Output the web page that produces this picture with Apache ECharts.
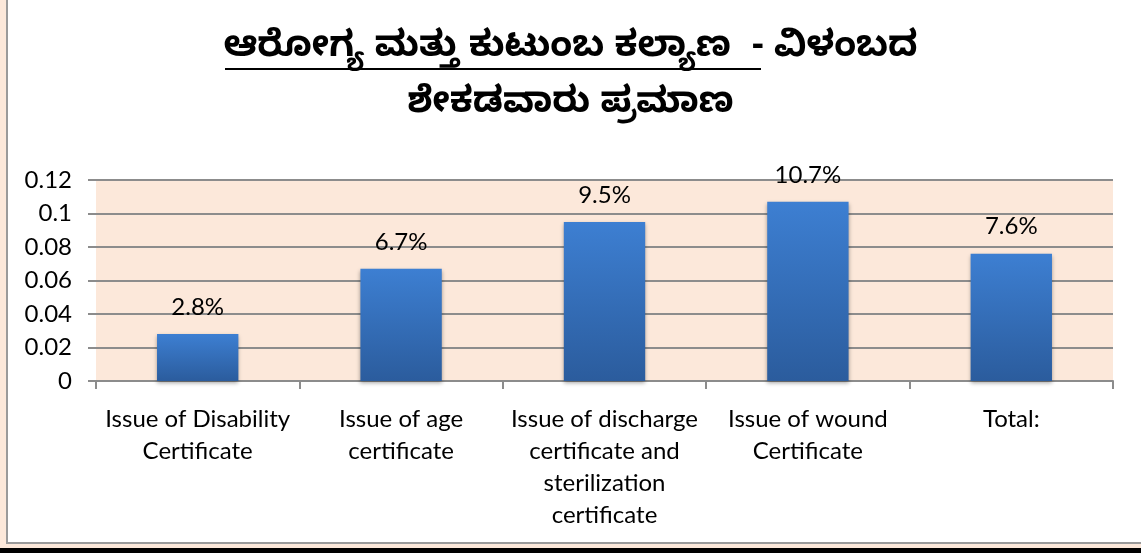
<!DOCTYPE html>
<html>
<head>
<meta charset="utf-8">
<script src="https://cdn.jsdelivr.net/npm/echarts@6/dist/echarts.min.js"></script>
<style>
  html, body { margin: 0; padding: 0; background: #fce8da; }
  #frame { position: absolute; left: 6px; top: -2px; width: 1140px; height: 546px; border: 2px solid #9a9a9a; background: #fff; box-sizing: border-box; }
  #band { position: absolute; left: 0; top: 548px; width: 1141px; height: 5px; background: #000; }
  #chart { position: absolute; left: 0; top: 0; width: 1141px; height: 553px; }
</style>
</head>
<body>
<div id="frame"></div>
<div id="band"></div>
<div id="chart"></div>
<script>
  // data
  var categories = [
    'Issue of Disability\nCertificate',
    'Issue of age\ncertificate',
    'Issue of discharge\ncertificate and\nsterilization\ncertificate',
    'Issue of wound\nCertificate',
    'Total:'
  ]
  var values = [0.028, 0.067, 0.095, 0.107, 0.076]
  var valueLabels = ['2.8%', '6.7%', '9.5%', '10.7%', '7.6%']
  var titleLine1 = 'ಆರೋಗ್ಯ ಮತ್ತು ಕುಟುಂಬ ಕಲ್ಯಾಣ  - ವಿಳಂಬದ'
  var titleLine2 = 'ಶೇಕಡವಾರು ಪ್ರಮಾಣ'

  var labelFont = "Lato, 'Open Sans', sans-serif"
  var titleFont = "'Noto Sans Kannada', 'Noto Sans', sans-serif"

  var chart = echarts.init(document.getElementById('chart'))
  chart.setOption({
    animation: false,
    title: {
      text: titleLine1 + '\n' + titleLine2,
      left: 'center',
      top: 19,
      textStyle: {
        fontFamily: titleFont,
        fontSize: 36,
        fontWeight: 'bold',
        color: '#000',
        lineHeight: 56
      }
    },
    graphic: [
      {
        // underline under the first part of the title
        type: 'line',
        shape: { x1: 225, y1: 69, x2: 761, y2: 69 },
        style: { stroke: '#000', lineWidth: 2 }
      }
    ],
    grid: {
      left: 96,
      right: 28,
      top: 180,
      bottom: 172,
      show: true,
      backgroundColor: '#fce8da',
      borderWidth: 0
    },
    xAxis: {
      type: 'category',
      data: categories,
      axisLine: { lineStyle: { color: '#8c8c8c', width: 2 } },
      axisTick: { show: true, length: 8, lineStyle: { color: '#8c8c8c', width: 2 } },
      axisLabel: {
        interval: 0,
        margin: 22,
        fontFamily: labelFont,
        fontSize: 24,
        lineHeight: 32,
        color: '#000'
      }
    },
    yAxis: {
      type: 'value',
      min: 0,
      max: 0.12,
      interval: 0.02,
      axisLine: { show: false },
      axisTick: { show: true, length: 8, lineStyle: { color: '#8c8c8c', width: 2 } },
      splitLine: { lineStyle: { color: '#8c8c8c', width: 2 } },
      axisLabel: {
        margin: 24,
        fontFamily: labelFont,
        fontSize: 24,
        color: '#000',
        formatter: function (v) { return String(+v.toFixed(2)) }
      }
    },
    series: [
      {
        type: 'bar',
        data: values,
        barWidth: '40%',
        itemStyle: {
          color: new echarts.graphic.LinearGradient(0, 0, 0, 1, [
            { offset: 0, color: '#3d7fd2' },
            { offset: 1, color: '#2b5c9d' }
          ]),
          shadowColor: 'rgba(0,0,0,0.35)',
          shadowBlur: 4,
          shadowOffsetY: 2
        },
        label: {
          show: true,
          position: 'top',
          distance: 15,
          fontFamily: labelFont,
          fontSize: 24,
          color: '#000',
          formatter: function (p) { return valueLabels[p.dataIndex] }
        }
      }
    ]
  })
</script>
</body>
</html>
